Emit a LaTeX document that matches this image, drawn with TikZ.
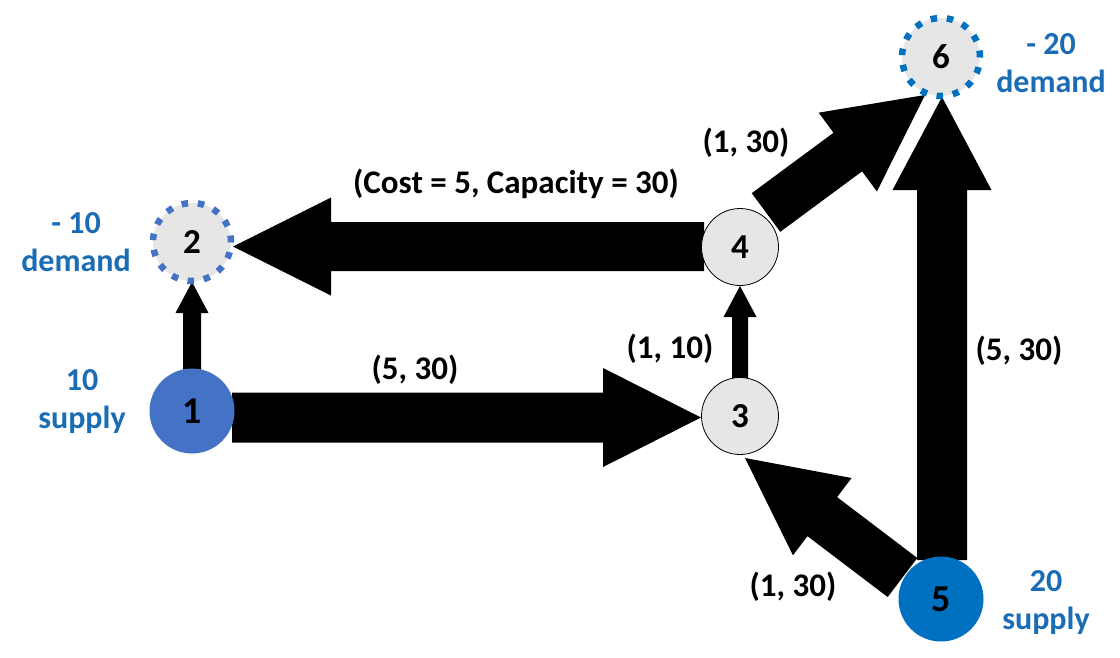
\documentclass[tikz,border=0pt]{standalone}
\usepackage{fontspec}
\setmainfont{Carlito}
\usetikzlibrary{calc}
\definecolor{nodeblue}{HTML}{4472C4}
\definecolor{darkblue}{HTML}{0070C0}
\definecolor{lightgray}{HTML}{E7E6E6}
\definecolor{txtblue}{HTML}{1A6DB5}
\pgfdeclarelayer{bg}
\pgfsetlayers{bg,main}
% block arrow: #1 start, #2 end (tip), #3 shaft half width, #4 head half width, #5 head length
\newcommand\blockarrow[5]{%
  \coordinate (ba-h) at ($(#2)!#5!(#1)$);
  \fill[black] ($(#1)!#3!90:(#2)$) -- ($(ba-h)!#3!90:(#2)$) -- ($(ba-h)!#4!90:(#2)$)
    -- (#2) -- ($(ba-h)!#4!-90:(#2)$) -- ($(ba-h)!#3!-90:(#2)$) -- ($(#1)!#3!-90:(#2)$) -- cycle;
}
\begin{document}
\begin{tikzpicture}[x=1pt,y=-1pt,
  every node/.style={font=\bfseries},
  bluenode/.style={circle,minimum size=85pt,inner sep=0pt,draw=none,font=\fontsize{38}{38}\bfseries},
  graynode/.style={circle,minimum size=77pt,inner sep=0pt,fill=lightgray,draw=black,line width=0.8pt,font=\fontsize{35}{35}\bfseries},
  dashnode/.style={circle,minimum size=78pt,inner sep=0pt,fill=lightgray,line width=6.5pt,dash pattern=on 6.5pt off 9.8pt,font=\fontsize{35}{35}\bfseries},
  edgelabel/.style={font=\fontsize{33}{33}\bfseries,text=black,inner sep=0pt},
  sdlabel/.style={font=\fontsize{32}{38}\bfseries,text=txtblue,align=center,inner sep=0pt}]
\useasboundingbox (0,0) rectangle (1120,657);

\node[bluenode,fill=nodeblue] (n1) at (192,411) {1};
\node[dashnode,draw=nodeblue] (n2) at (192,242) {2};
\node[graynode] (n3) at (740,416) {3};
\node[graynode] (n4) at (740,247) {4};
\node[bluenode,fill=darkblue] (n5) at (941,599) {5};
\node[dashnode,draw=darkblue] (n6) at (941,57) {6};

\begin{pgfonlayer}{bg}
  \fill[white] (0,0) rectangle (1120,657);
  % 1 -> 2
  \coordinate (s12) at ($(n1)+(0,-38)$);
  \coordinate (e12) at ($(n2)+(0,40)$);
  \blockarrow{s12}{e12}{9pt}{16.5pt}{31pt}
  % 1 -> 3
  \coordinate (s13) at ($(n1)+(40,6.5)$);
  \coordinate (e13) at ($(n3)+(-39,1.5)$);
  \blockarrow{s13}{e13}{25pt}{49.5pt}{98pt}
  % 4 -> 2
  \coordinate (s42) at ($(n4)+(-36,-0.5)$);
  \coordinate (e42) at ($(n2)+(41,4.5)$);
  \blockarrow{s42}{e42}{24.5pt}{49pt}{98pt}
  % 3 -> 4
  \coordinate (s34) at ($(n3)+(0,-37)$);
  \coordinate (e34) at ($(n4)+(0,39)$);
  \blockarrow{s34}{e34}{8pt}{16.5pt}{31pt}
  % 5 -> 6
  \coordinate (s56) at ($(n5)+(1,-39)$);
  \coordinate (e56) at ($(n6)+(1,40)$);
  \blockarrow{s56}{e56}{25pt}{49.5pt}{93pt}
  % 4 -> 6
  \coordinate (s46) at ($(n4)+(26,-34.5)$);
  \coordinate (e46) at ($(n6)+(-16,38)$);
  \blockarrow{s46}{e46}{24pt}{49pt}{96pt}
  % 5 -> 3
  \coordinate (s53) at ($(n5)+(-38.5,-21.5)$);
  \coordinate (e53) at ($(n3)+(5,42)$);
  \blockarrow{s53}{e53}{24.5pt}{48.5pt}{97pt}
\end{pgfonlayer}

\node[edgelabel] (l42) at (516,184) {(Cost = 5, Capacity = 30)};
\node[edgelabel] (l13) at (415,370) {(5, 30)};
\node[edgelabel] (l34) at (670,349) {(1, 10)};
\node[edgelabel] (l46) at (746,143) {(1, 30)};
\node[edgelabel] (l53) at (793,587) {(1, 30)};
\node[edgelabel] (l56) at (1019,351) {(5, 30)};

\node[sdlabel] (d2) at (76,242) {- 10\\demand};
\node[sdlabel] (s1) at (82,402) {10\\supply};
\node[sdlabel] (d6) at (1051,63) {- 20\\demand};
\node[sdlabel] (s5) at (1046,603) {20\\supply};
\end{tikzpicture}
\end{document}
